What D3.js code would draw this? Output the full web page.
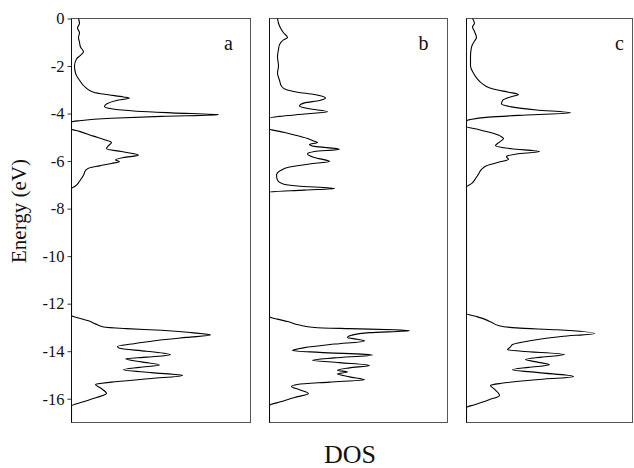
<!DOCTYPE html>
<html>
<head>
<meta charset="utf-8">
<script src="https://cdn.jsdelivr.net/npm/d3@7"></script>
<style>
  body { margin: 0; background: #fff; }
  svg { display: block; }
  text { font-family: "Liberation Serif", "Times New Roman", serif; fill: #111; }
</style>
</head>
<body>
<svg id="chart" width="634" height="468"></svg>
<script>
// ---- data (energy in eV, DOS in arbitrary units) ----
var panelNames = ["a", "b", "c"];
var energyTicks = [0, -2, -4, -6, -8, -10, -12, -14, -16];

var dosA = [
  [0, 7], [-0.2, 8], [-0.4, 6], [-0.6, 8], [-0.8, 7], [-1.0, 8], [-1.2, 9], [-1.4, 12], [-1.55, 9],
  [-1.7, 5], [-2.0, 3], [-2.3, 4], [-2.6, 8], [-2.9, 14], [-3.1, 22], [-3.2, 35], [-3.3, 52],
  [-3.35, 58], [-3.45, 45], [-3.6, 35], [-3.7, 33], [-3.8, 40], [-3.9, 65], [-3.97, 100],
  [-4.05, 147], [-4.12, 90], [-4.2, 40], [-4.3, 8], [-4.35, 0], [-4.65, 0], [-4.75, 8],
  [-4.95, 22], [-5.1, 33], [-5.22, 40], [-5.35, 37], [-5.48, 35], [-5.6, 50], [-5.75, 67],
  [-5.85, 52], [-5.95, 44], [-6.02, 48], [-6.1, 40], [-6.2, 28], [-6.3, 17], [-6.4, 14],
  [-6.6, 12], [-6.85, 8], [-7.05, 4], [-7.15, 0], [-7.5, 0],
  [-12.0, 0], [-12.5, 0], [-12.6, 7], [-12.72, 17], [-12.85, 24], [-12.98, 32], [-13.05, 55],
  [-13.12, 90], [-13.22, 120], [-13.32, 139], [-13.42, 115], [-13.55, 85], [-13.7, 60],
  [-13.8, 46], [-13.88, 48], [-14.0, 75], [-14.15, 99], [-14.25, 75], [-14.32, 54],
  [-14.45, 70], [-14.58, 88], [-14.68, 68], [-14.78, 52], [-14.9, 80], [-15.02, 111],
  [-15.15, 80], [-15.3, 40], [-15.4, 24], [-15.55, 29], [-15.78, 35], [-15.95, 25],
  [-16.15, 10], [-16.3, 0], [-17, 0]
];

var dosB = [
  [0, 8], [-0.2, 9], [-0.4, 11], [-0.6, 14], [-0.8, 18], [-0.9, 14], [-1.1, 10], [-1.3, 9],
  [-1.6, 8], [-2.0, 9], [-2.3, 8], [-2.6, 10], [-2.85, 12], [-3.0, 17], [-3.1, 28], [-3.2, 45],
  [-3.35, 56], [-3.45, 50], [-3.55, 35], [-3.68, 30], [-3.8, 40], [-3.92, 58], [-4.02, 35],
  [-4.12, 10], [-4.2, 0], [-4.65, 0], [-4.75, 10], [-4.9, 25], [-5.05, 38], [-5.15, 44],
  [-5.22, 48], [-5.3, 40], [-5.38, 45], [-5.5, 70], [-5.6, 45], [-5.7, 38], [-5.85, 45],
  [-6.02, 60], [-6.12, 40], [-6.25, 20], [-6.4, 11], [-6.6, 7], [-6.8, 8], [-6.95, 13],
  [-7.05, 28], [-7.15, 65], [-7.22, 35], [-7.3, 0], [-7.5, 0],
  [-12.0, 0], [-12.55, 0], [-12.65, 8], [-12.75, 18], [-12.9, 30], [-13.0, 45], [-13.05, 80],
  [-13.1, 125], [-13.14, 140], [-13.22, 100], [-13.33, 82], [-13.42, 78], [-13.5, 88],
  [-13.57, 95], [-13.7, 65], [-13.85, 35], [-13.97, 23], [-14.05, 50], [-14.16, 103],
  [-14.28, 65], [-14.38, 43], [-14.48, 70], [-14.6, 100], [-14.7, 80], [-14.8, 68],
  [-14.88, 78], [-14.95, 68], [-15.08, 80], [-15.2, 95], [-15.3, 60], [-15.4, 28],
  [-15.48, 22], [-15.62, 30], [-15.78, 39], [-15.95, 25], [-16.12, 12], [-16.28, 0], [-17, 0]
];

var dosC = [
  [0, 6], [-0.2, 8], [-0.35, 6], [-0.55, 8], [-0.8, 10], [-0.95, 8], [-1.2, 5], [-1.6, 4],
  [-2.0, 4], [-2.3, 7], [-2.55, 11], [-2.75, 16], [-2.9, 22], [-3.0, 30], [-3.1, 42],
  [-3.2, 52], [-3.3, 44], [-3.45, 36], [-3.6, 35], [-3.72, 45], [-3.85, 70], [-3.97, 104],
  [-4.06, 60], [-4.15, 22], [-4.25, 4], [-4.3, 0], [-4.55, 0], [-4.65, 10], [-4.8, 24],
  [-4.95, 34], [-5.05, 37], [-5.2, 33], [-5.35, 29], [-5.48, 45], [-5.6, 73], [-5.7, 50],
  [-5.82, 40], [-5.92, 42], [-6.05, 32], [-6.2, 20], [-6.35, 15], [-6.55, 12], [-6.8, 8],
  [-6.95, 5], [-7.08, 0], [-7.5, 0],
  [-12.0, 0], [-12.42, 0], [-12.52, 8], [-12.65, 18], [-12.78, 25], [-12.92, 32], [-13.02, 50],
  [-13.1, 90], [-13.25, 128], [-13.38, 95], [-13.55, 65], [-13.72, 46], [-13.82, 44],
  [-13.94, 41], [-14.0, 55], [-14.14, 98], [-14.25, 75], [-14.35, 59], [-14.45, 70],
  [-14.57, 83], [-14.68, 62], [-14.78, 46], [-14.9, 72], [-15.06, 107], [-15.2, 70],
  [-15.35, 35], [-15.44, 24], [-15.6, 28], [-15.86, 33], [-16.05, 22], [-16.25, 8],
  [-16.37, 0], [-17, 0]
];

// ---- layout ----
var svg = d3.select("#chart");
var plotTop = 18.5, plotBottom = 422.5;
var panels = [
  { name: panelNames[0], data: dosA, left: 71.5, right: 250.5, labelDx: 22 },
  { name: panelNames[1], data: dosB, left: 269.5, right: 447.5, labelDx: 24 },
  { name: panelNames[2], data: dosC, left: 466.5, right: 632.5, labelDx: 13 }
];

var y = d3.scaleLinear().domain([0, -17]).range([plotTop, plotBottom]);

// y axis on the first panel
var yAxis = d3.axisLeft(y)
  .tickValues(energyTicks)
  .tickFormat(function(d) { return d === 0 ? "0" : "-" + Math.abs(d); })
  .tickSize(4)
  .tickPadding(3);

var gAxis = svg.append("g")
  .attr("transform", "translate(" + panels[0].left + ",0)")
  .call(yAxis);
gAxis.select(".domain").remove();
gAxis.selectAll(".tick line").attr("stroke", "#333");
gAxis.selectAll(".tick text")
  .style("font-family", "'Liberation Serif', serif")
  .style("font-size", "16.5px")
  .attr("fill", "#222");

var defs = svg.append("defs");

panels.forEach(function(p, i) {
  var x = d3.scaleLinear().domain([0, 180]).range([p.left, p.left + 180]);
  var g = svg.append("g");

  defs.append("clipPath").attr("id", "clip" + i)
    .append("rect")
    .attr("x", p.left).attr("y", plotTop - 1)
    .attr("width", p.right - p.left).attr("height", plotBottom - plotTop + 1);

  // frame
  g.append("rect")
    .attr("x", p.left).attr("y", plotTop)
    .attr("width", p.right - p.left).attr("height", plotBottom - plotTop)
    .attr("fill", "none").attr("stroke", "#555").attr("stroke-width", 1);
  g.append("line")
    .attr("x1", p.left).attr("x2", p.left)
    .attr("y1", plotTop).attr("y2", plotBottom)
    .attr("stroke", "#111");

  var line = d3.line()
    .x(function(d) { return x(d[1]); })
    .y(function(d) { return y(d[0]); })
    .curve(d3.curveMonotoneY);

  g.append("path")
    .datum(p.data)
    .attr("d", line)
    .attr("clip-path", "url(#clip" + i + ")")
    .attr("fill", "none")
    .attr("stroke", "#000")
    .attr("stroke-width", 1.1);

  g.append("text")
    .attr("x", p.right - p.labelDx)
    .attr("y", 50)
    .attr("text-anchor", "middle")
    .style("font-size", "20px")
    .text(p.name);
});

// axis titles
svg.append("text")
  .attr("transform", "translate(26,211) rotate(-90)")
  .attr("text-anchor", "middle")
  .style("font-size", "21px")
  .text("Energy (eV)");

svg.append("text")
  .attr("x", 350)
  .attr("y", 463)
  .attr("text-anchor", "middle")
  .style("font-size", "26px")
  .text("DOS");
</script>
</body>
</html>
